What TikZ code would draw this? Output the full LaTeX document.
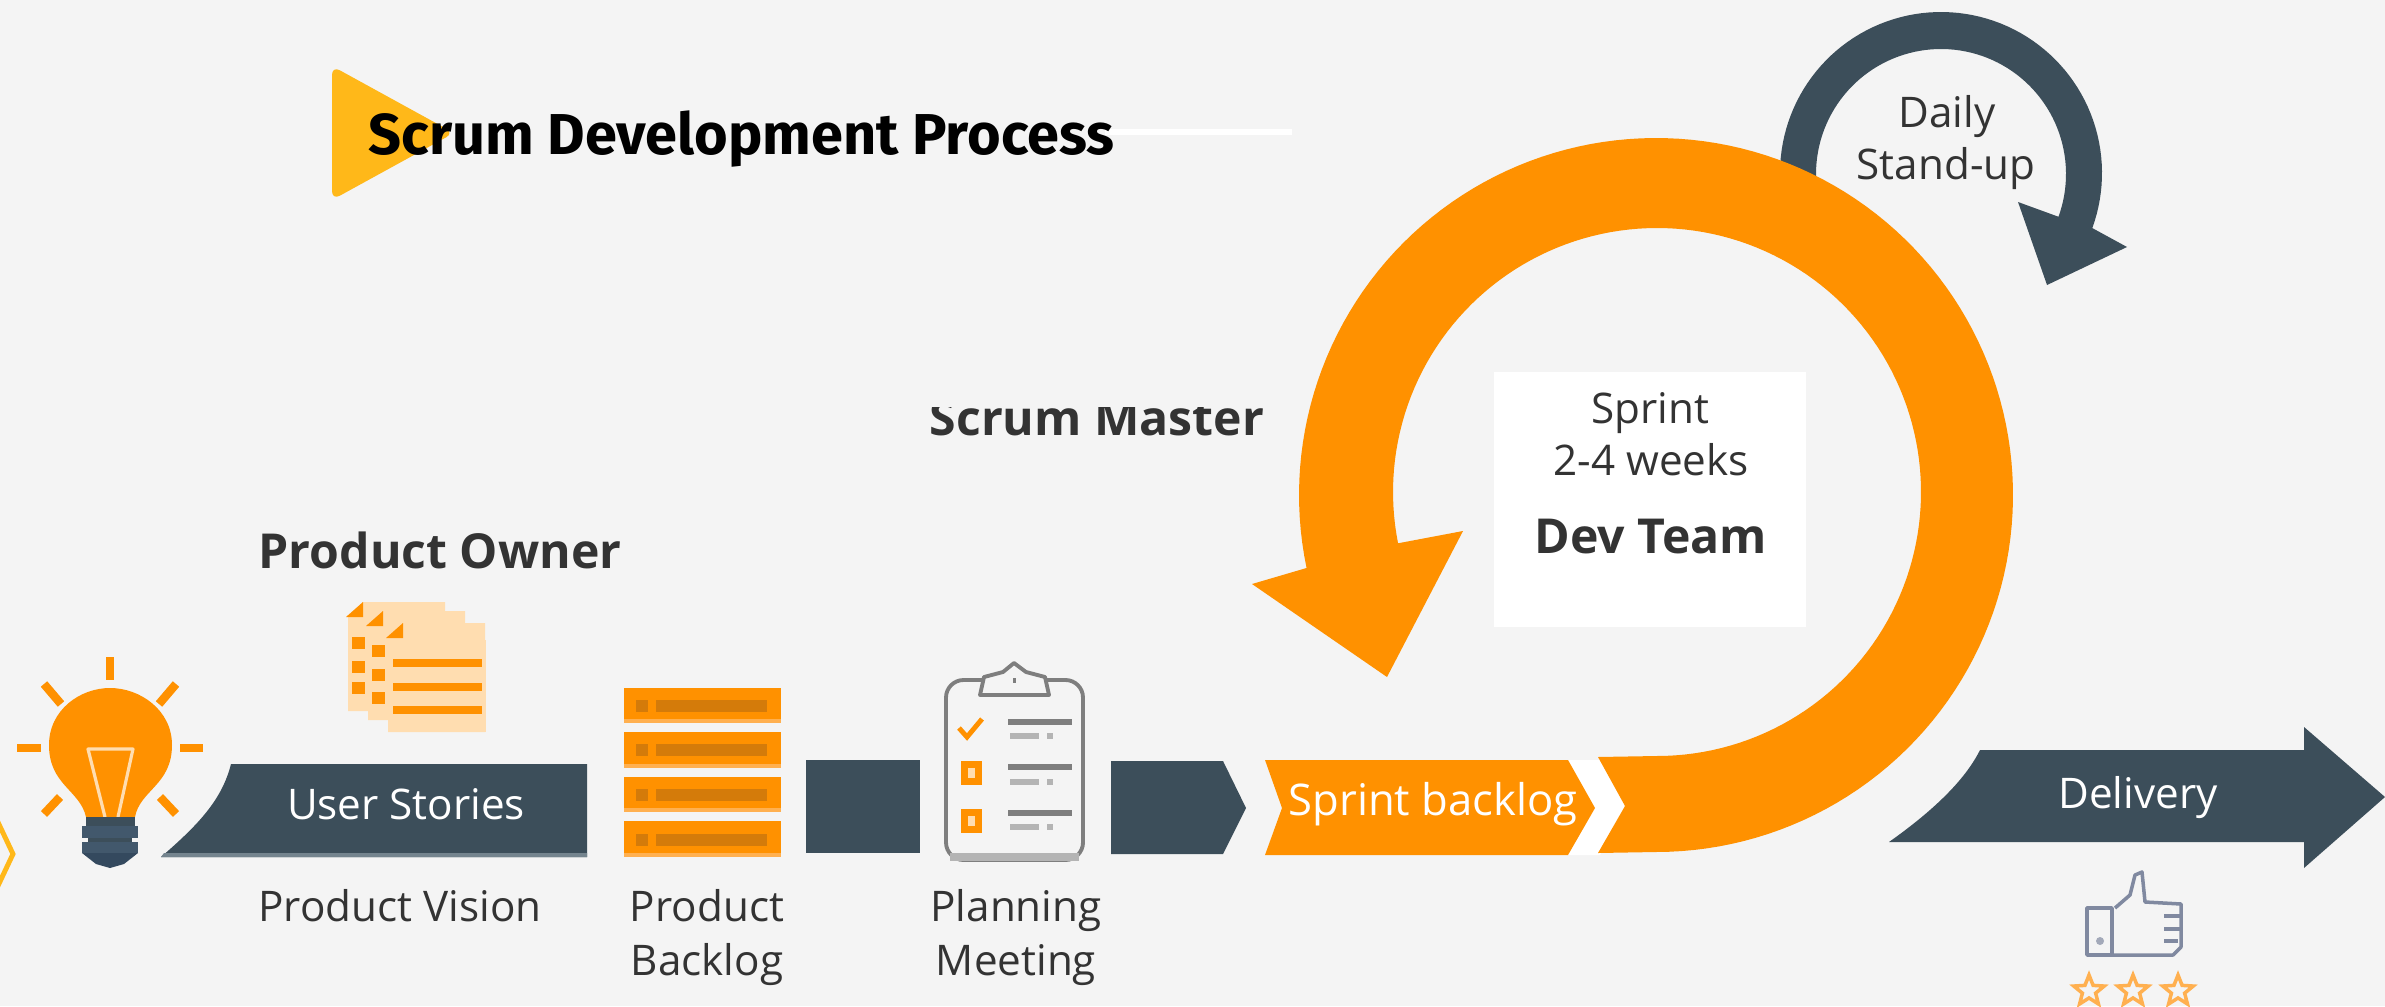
\documentclass[tikz,border=0pt]{standalone}
\usepackage{fontspec}
\setmainfont{Open Sans}
\newfontfamily\titlefont{Fira Sans}
\usetikzlibrary{shapes.geometric}
\definecolor{pagebg}{HTML}{F4F4F4}
\definecolor{orangeA}{HTML}{FF9100}
\definecolor{orangeD}{HTML}{D47B0A}
\definecolor{orangeL}{HTML}{FFB050}
\definecolor{paleO}{HTML}{FFDDB0}
\definecolor{slateA}{HTML}{3C4E5A}
\definecolor{slateL}{HTML}{42586C}
\definecolor{slateT}{HTML}{34495E}
\definecolor{slateS}{HTML}{74848E}
\definecolor{goldA}{HTML}{FFB819}
\definecolor{inkA}{HTML}{333333}
\definecolor{greyA}{HTML}{7E7E7E}
\definecolor{greyB}{HTML}{B4B4B4}
\definecolor{thumbC}{HTML}{8089A0}
\tikzset{
  x=0.01cm,y=-0.01cm,
  lbl/.style={anchor=base,inner sep=0pt,text=inkA,font=\fontsize{12pt}{14pt}\selectfont},
  lblw/.style={lbl,text=white},
  lblb/.style={lbl,font=\bfseries\fontsize{13.7pt}{16pt}\selectfont},
  ray/.style={draw=orangeA,line width=2.4pt,line cap=butt},
  clipline/.style={draw=greyA,line width=1.1pt,line join=round},
  thumbline/.style={draw=thumbC,line width=1pt,line join=round},
  starmark/.style={star,star points=5,star point ratio=2.3,draw=orangeL,line width=1pt,fill=none,minimum size=0.32cm,inner sep=0pt},
}
\begin{document}
\begin{tikzpicture}
\useasboundingbox (0,0) rectangle (2385,1006);
\fill[pagebg] (0,0) rectangle (2385,1006);

% title
\draw[white,line width=1.7pt] (1105,132) -- (1292,132);
\fill[goldA,rounded corners=2.5pt] (332,66) -- (454,133) -- (332,200) -- cycle;
\node[anchor=base west,inner sep=0pt,text=black,font=\titlefont\bfseries\fontsize{16.4pt}{18pt}\selectfont] (title) at (368,154) {Scrum Development Process};

% left chevron
\draw[goldA,line width=1.4pt] (-4,818) -- (13,854) -- (-4,890);

% bulb
\fill[orangeA] (86,817) .. controls (80,790) and (49,785) .. (49,745) .. controls (49,710) and (80,688) .. (110,688) .. controls (140,688) and (172,710) .. (172,745) .. controls (172,785) and (140,790) .. (135,817) -- cycle;
\draw[paleO,line width=0.9pt,line join=round] (105,817) -- (88,749) -- (133,749) -- (118,817);
\draw[ray] (110,657) -- (110,680);
\draw[ray] (17,748) -- (41,748);
\draw[ray] (180,748) -- (203,748);
\draw[ray] (44,684) -- (61,704);
\draw[ray] (176,684) -- (159,704);
\draw[ray] (60,797) -- (44,814);
\draw[ray] (160,797) -- (176,814);
\fill[slateA] (86,817) rectangle (135,826);
\fill[slateL] (82,826) rectangle (138,838);
\fill[slateA] (88,838) rectangle (132,842);
\fill[slateL] (82,842) rectangle (138,853);
\fill[slateT] (82,853) -- (138,853) -- (124,864) -- (110,868) -- (96,864) -- cycle;

% user stories band
\fill[slateA] (231,764) .. controls (222,800) and (198,825) .. (161,857) -- (587,857) -- (587,764) -- cycle;
\fill[slateS] (164,853) -- (587,853) -- (587,857) -- (161,857) -- cycle;
\node[lblw] (userstories) at (406,819) {User Stories};
\node[lbl] (vision) at (400,921) {Product Vision};
\node[lblb] (owner) at (440,568) {Product Owner};

% pages
\foreach \dx/\dy in {348/602,368/611,388/623}{
  \begin{scope}[shift={(\dx,\dy)}]
    \fill[paleO] (0,15) -- (15,0) -- (97,0) -- (97,109) -- (0,109) -- cycle;
    \fill[orangeA] (-2,15) -- (15,15) -- (15,0) -- cycle;
  \end{scope}
}
\foreach \y in {643,667,688}{\fill[orangeA] (352,\y-6) rectangle (365,\y+6);}
\foreach \y in {651,675,698}{\fill[orangeA] (372,\y-6) rectangle (385,\y+6);}
\fill[paleO] (388,640) rectangle (486,732);
\foreach \y in {663,687,710}{\fill[orangeA] (393,\y-4) rectangle (482,\y+4);}

% product backlog bars
\foreach \t/\b/\m in {688/723/706,732/768/750,777/812/795,821/857/840}{
  \fill[orangeA] (624,\t) rectangle (781,\b);
  \fill[orangeL] (624,\b-4) rectangle (781,\b);
  \fill[orangeD] (636,\m-6) rectangle (648,\m+6);
  \fill[orangeD] (656,\m-6) rectangle (767,\m+6);
}
\node[lbl] (product) at (707,921) {Product};
\node[lbl] (backlog) at (707,975) {Backlog};

% connectors band pieces
\fill[slateA] (806,760) rectangle (920,853);
\fill[slateA] (1111,761) -- (1223,761) -- (1246,808) -- (1223,854) -- (1111,854) -- cycle;

% clipboard
\draw[clipline,rounded corners=5pt] (946,680) rectangle (1083,860);
\fill[greyB] (950,853) rectangle (1079,861);
\fill[pagebg] (982,676) rectangle (1047,693);
\draw[clipline] (980,695) -- (1049,695) -- (1045,677) -- (1026,672) -- (1014,663) -- (1003,672) -- (984,677) -- cycle;
\fill[greyA] (1013,678) rectangle (1016,683);
\draw[orangeA,line width=1.4pt] (959,728) -- (967,737) -- (982,719);
\fill[orangeA] (961,761) rectangle (982,785);
\fill[paleO] (968,768) rectangle (975,778);
\fill[orangeA] (961,809) rectangle (982,833);
\fill[paleO] (968,816) rectangle (975,826);
\foreach \y/\s in {722/736,767/782,813/827}{
  \fill[greyA] (1008,\y-3) rectangle (1072,\y+3);
  \fill[greyB] (1010,\s-3) rectangle (1039,\s+3);
  \fill[greyB] (1047,\s-3) rectangle (1053,\s+3);
}
\node[lbl] (planning) at (1016,921) {Planning};
\node[lbl] (meeting) at (1016,975) {Meeting};

% daily stand-up arrow
\fill[slateA] plot[domain=-185:20,samples=80] ({1941+161*cos(\x)},{173+161*sin(\x)})
  -- (2127,247) -- (2047,285) -- (2018,202)
  -- plot[domain=20:-185,samples=80] ({1941+125*cos(\x)},{174+125*sin(\x)}) -- cycle;
\node[lbl,text=inkA] (daily) at (1947,127) {Daily};
\node[lbl,text=inkA] (standup) at (1946,179) {Stand-up};

% white chevron and sprint backlog
\fill[white] (1560,760) -- (1600,760) -- (1628,808) -- (1600,855) -- (1560,855) -- cycle;
\fill[orangeA] (1265,760) -- (1568,760) -- (1595,808) -- (1568,855) -- (1265,855) -- (1282,808) -- cycle;
\node[lblw,font=\fontsize{12.4pt}{14pt}\selectfont] (sprintbacklog) at (1433,815) {Sprint backlog};

% big sprint ring
\fill[orangeA] (1598,757) -- (1625,806) -- (1598,853) -- (1656,852)
  -- plot[domain=90:-191.8,samples=140] ({1656+357*cos(\x)},{495+357*sin(\x)})
  -- (1252,584) -- (1387,677) -- (1463,531)
  -- plot[domain=-191.2:90,samples=140] ({1657+264*cos(\x)},{492+264*sin(\x)}) -- cycle;

% sprint box
\fill[white] (1494,372) rectangle (1806,627);
\node[lbl] (sprint) at (1650,423) {Sprint};
\node[lbl] (weeks) at (1651,475) {2-4 weeks};
\node[lblb] (devteam) at (1651,553) {Dev Team};

% scrum master, its top cut off as in the reference
\begin{scope}
  \clip (900,407) rectangle (1300,450);
  \node[lblb] (master) at (1097,435) {Scrum Master};
\end{scope}

% delivery
\fill[slateA] (1980,750) .. controls (1966,778) and (1937,808) .. (1889,842) -- (2304,842) -- (2304,868) -- (2385,797) -- (2304,727) -- (2304,750) -- cycle;
\node[lblw] (delivery) at (2138,808) {Delivery};

% thumb
\draw[thumbline] (2087,908) rectangle (2112,955);
\draw[thumbline] (2115,908) -- (2130,895) -- (2135,875) -- (2142,872) -- (2145,902) -- (2181,904) -- (2181,947) -- (2173,955) -- (2112,955);
\draw[thumbline] (2164,916) -- (2180,916) (2164,929) -- (2180,929) (2164,941) -- (2178,941);
\fill[thumbC!70!pagebg] (2100,941) circle (4);

% stars
\node[starmark] (star1) at (2089,991) {};
\node[starmark] (star2) at (2133,991) {};
\node[starmark] (star3) at (2178,991) {};
\end{tikzpicture}
\end{document}
